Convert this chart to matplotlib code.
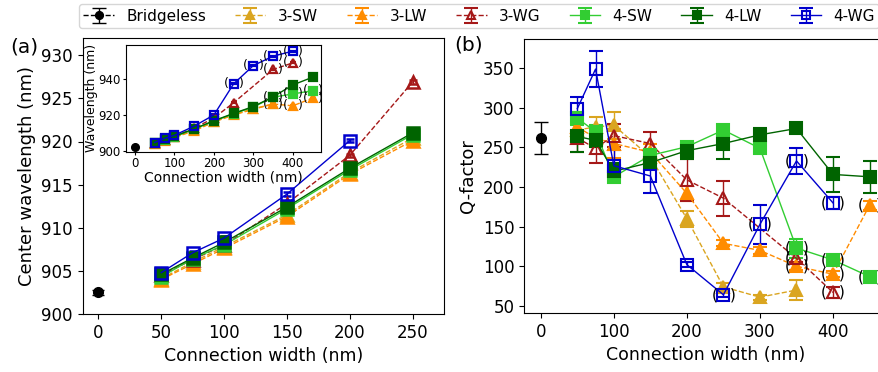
import matplotlib.pyplot as plt

# bridgeless reference cavity
x_bl = [0]
wl_bl = [902.5]
wl_bl_err = [0.3]
q_bl = [262]
q_bl_err = [20]

# connection widths (nm) for each design
x_3sw = [50, 75, 100, 150, 200, 250, 300, 350]
x_3lw = [50, 75, 100, 150, 200, 250, 300, 350, 400, 450]
x_3wg = [50, 75, 100, 150, 200, 250, 350, 400]
x_4sw = [50, 75, 100, 150, 200, 250, 300, 350, 400, 450]
x_4lw = [50, 75, 100, 150, 200, 250, 300, 350, 400, 450]
x_4wg = [50, 75, 100, 150, 200, 250, 300, 350, 400]

# center wavelength (nm)
wl_3sw = [904.1, 906.0, 907.8, 911.5, 916.4, 920.4, 923.5, 926.3]
wl_3lw = [904.0, 905.8, 907.6, 911.3, 916.2, 920.1, 923.3, 926.2, 925.2, 929.5]
wl_3wg = [904.5, 906.3, 908.0, 912.8, 918.4, 926.9, 945.4, 949.1]
wl_4sw = [904.3, 906.4, 908.0, 912.2, 916.7, 920.8, 924.5, 930.0, 931.8, 933.6]
wl_4lw = [904.6, 906.5, 908.3, 912.4, 916.9, 921.0, 924.8, 930.2, 936.8, 941.1]
wl_4wg = [904.8, 907.1, 908.8, 913.9, 920.1, 937.4, 947.6, 952.8, 955.6]

# Q-factor and its error
q_3sw = [272, 276, 278, 238, 160, 74, 61, 70]
qe_3sw = [12, 12, 17, 10, 10, 5, 3, 13]
q_3lw = [276, 262, 255, 244, 192, 129, 120, 100, 90, 177]
qe_3lw = [15, 12, 18, 10, 10, 4, 4, 5, 4, 6]
q_3wg = [262, 249, 265, 255, 209, 186, 110, 67]
qe_3wg = [18, 18, 15, 15, 27, 22, 5, 7]
q_4sw = [287, 270, 213, 240, 251, 272, 249, 123, 108, 87]
qe_4sw = [8, 8, 6, 8, 6, 6, 6, 12, 4, 4]
q_4lw = [264, 259, 220, 231, 246, 255, 266, 274, 216, 213]
qe_4lw = [20, 8, 10, 8, 10, 19, 8, 3, 22, 20]
q_4wg = [299, 349, 227, 214, 102, 64, 153, 233, 180]
qe_4wg = [15, 23, 20, 21, 3, 3, 25, 16, 8]

# widths whose points are bracketed "( )"
par_3sw = []
par_3lw = [350, 400, 450]
par_3wg = [350, 400]
par_4sw = [350, 400, 450]
par_4lw = []
par_4wg = [250, 300, 350, 400]

series = [
    ('3-SW', x_3sw, wl_3sw, q_3sw, qe_3sw, par_3sw, 'goldenrod', '^', True, '--'),
    ('3-LW', x_3lw, wl_3lw, q_3lw, qe_3lw, par_3lw, 'darkorange', '^', True, '--'),
    ('3-WG', x_3wg, wl_3wg, q_3wg, qe_3wg, par_3wg, '#a51818', '^', False, '--'),
    ('4-SW', x_4sw, wl_4sw, q_4sw, qe_4sw, par_4sw, 'limegreen', 's', True, '-'),
    ('4-LW', x_4lw, wl_4lw, q_4lw, qe_4lw, par_4lw, 'darkgreen', 's', True, '-'),
    ('4-WG', x_4wg, wl_4wg, q_4wg, qe_4wg, par_4wg, 'mediumblue', 's', False, '-'),
]

W, H = 879, 372
fig = plt.figure(figsize=(W / 100, H / 100), dpi=100)
ax_a = fig.add_axes([82.7 / W, 1 - 314 / H, (444 - 82.7) / W, (314 - 38) / H])
ax_b = fig.add_axes([524.3 / W, 1 - 313 / H, (886 - 524.3) / W, (313 - 39) / H])
ax_in = fig.add_axes([126 / W, 1 - 151.5 / H, (321.5 - 126) / W, (151.5 - 45) / H])


def brackets(ax, xs, ys, xb, fs, off):
    for x, y in zip(xs, ys):
        if x in xb:
            for s, dx in (('(', -off), (')', off)):
                ax.annotate(s, (x, y), xytext=(dx, 0), textcoords='offset points',
                            ha='center', va='center', fontsize=fs, zorder=10)


# bridgeless
ax_a.errorbar(x_bl, wl_bl, yerr=wl_bl_err, color='black', marker='o', ms=7,
              capsize=4, ls='--')
ax_in.errorbar(x_bl, wl_bl, yerr=wl_bl_err, color='black', marker='o', ms=5.5,
               capsize=2, ls='--')
h_bl = ax_b.errorbar(x_bl, q_bl, yerr=q_bl_err, color='black', marker='o', ms=7,
                     capsize=5, ls='--', lw=1)
handles = [h_bl]
labels = ['Bridgeless']

for name, xs, wl, q, qe, par, c, m, filled, ls in series:
    mfc = c if filled else 'none'
    # main panel: widths up to 250 nm, bracketed points left out
    keep = [i for i, x in enumerate(xs) if x <= 250 and x not in par]
    xa = [xs[i] for i in keep]
    wa = [wl[i] for i in keep]
    ax_a.errorbar(xa, wa, yerr=[0.2] * len(xa), color=c, marker=m, ms=8, mfc=mfc,
                  mew=1.8, ls=ls, lw=1, capsize=3)
    ax_in.errorbar(xs, wl, yerr=[0.3] * len(xs), color=c, marker=m, ms=6, mfc=mfc,
                   mew=1.6, ls=ls, lw=1, capsize=2)
    brackets(ax_in, xs, wl, par, 9, 5.5)
    h = ax_b.errorbar(xs, q, yerr=qe, color=c, marker=m, ms=8, mfc=mfc, mew=1.5,
                      ls=ls, lw=1, capsize=5)
    brackets(ax_b, xs, q, par, 11, 6.5)
    handles.append(h)
    labels.append(name)

ax_a.set_xlim(-12.5, 275)
ax_a.set_ylim(900, 932)
ax_a.set_xticks([0, 50, 100, 150, 200, 250])
ax_a.set_yticks([900, 905, 910, 915, 920, 925, 930])
ax_a.tick_params(labelsize=12)
ax_a.set_xlabel('Connection width (nm)', fontsize=12.5)
ax_a.set_ylabel('Center wavelength (nm)', fontsize=13)

ax_in.set_xlim(-22.5, 472.5)
ax_in.set_ylim(899.8, 959)
ax_in.set_xticks([0, 100, 200, 300, 400])
ax_in.set_yticks([900, 920, 940])
ax_in.tick_params(labelsize=8.5, length=2.5, pad=1.5)
ax_in.set_xlabel('Connection width (nm)', fontsize=10, labelpad=0)
ax_in.set_ylabel('Wavelength (nm)', fontsize=9, labelpad=0)

ax_b.set_xlim(-22.5, 472.5)
ax_b.set_ylim(41, 387)
ax_b.set_xticks([0, 100, 200, 300, 400])
ax_b.set_yticks([50, 100, 150, 200, 250, 300, 350])
ax_b.tick_params(labelsize=12)
ax_b.set_xlabel('Connection width (nm)', fontsize=12.5)
ax_b.set_ylabel('Q-factor', fontsize=13)

fig.text(10 / W, 1 - 47 / H, '(a)', fontsize=14.5, va='center')
fig.text(454 / W, 1 - 45 / H, '(b)', fontsize=14.5, va='center')

fig.legend(handles, labels, loc='upper center', bbox_to_anchor=(0.545, 1.01),
           ncol=7, fontsize=11, columnspacing=1.9, handlelength=2,
           handletextpad=0.8, borderpad=0.3, markerscale=0.8)

fig.savefig('out.png', dpi=100)
